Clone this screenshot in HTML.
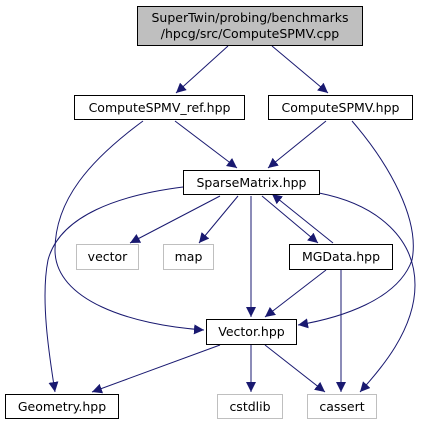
<!DOCTYPE html>
<html><head><meta charset="utf-8"><style>
html,body{margin:0;padding:0;background:#fff;width:421px;height:425px;overflow:hidden}
text{font-family:"DejaVu Sans","Liberation Sans",sans-serif;font-size:12.5px;fill:#000}
</style></head><body>
<svg width="421" height="425" viewBox="0 0 421 425" xmlns="http://www.w3.org/2000/svg">
<defs><marker id="a" viewBox="0 0 10 10" refX="10" refY="5" markerWidth="10" markerHeight="10" markerUnits="userSpaceOnUse" orient="auto"><path d="M0,0 L10,5 L0,10 z" fill="#191970"/></marker></defs>
<g fill="none" stroke="#191970" stroke-width="1" marker-end="url(#a)">
<path d="M228,46 L176,93"/>
<path d="M272,46 L328,93"/>
<path d="M175,121 L237,168"/>
<path d="M326,121 L268,168"/>
<path d="M143,121 C90,160 55,200 55,250 C55,300 130,325 204,330"/>
<path d="M352,121 C390,165 420,220 412,260 C398,300 340,318 298,325"/>
<path d="M183,187 C120,195 60,215 48,260 C40,300 50,360 55,392"/>
<path d="M220,196 L130,243"/>
<path d="M238,196 L199,243"/>
<path d="M251,196 L251,317"/>
<path d="M262,196 L318,243"/>
<path d="M333,243 L272,194"/>
<path d="M319,193 C380,205 415,240 415,285 C415,330 380,370 360,392"/>
<path d="M326,270 L265,317"/>
<path d="M341,270 L341,392"/>
<path d="M220,345 L92,392"/>
<path d="M251,345 L251,392"/>
<path d="M265,345 L325,392"/>
</g>
<rect x="137.5" y="6.5" width="225" height="39" fill="#bfbfbf" stroke="#000"/>
<text x="250" y="22" text-anchor="middle">SuperTwin/probing/benchmarks</text>
<text x="250" y="38" text-anchor="middle">/hpcg/src/ComputeSPMV.cpp</text>
<g fill="#fff" stroke="#000">
<rect x="74.5" y="95.5" width="170" height="24"/>
<rect x="268.5" y="95.5" width="144" height="24"/>
<rect x="183.5" y="170.5" width="136" height="24"/>
<rect x="289.5" y="244.5" width="103" height="25"/>
<rect x="206.5" y="319.5" width="90" height="25"/>
<rect x="5.5" y="394.5" width="113" height="24"/>
</g>
<g fill="#fff" stroke="#bfbfbf">
<rect x="76.5" y="244.5" width="62" height="25"/>
<rect x="163.5" y="244.5" width="50" height="25"/>
<rect x="217.5" y="394.5" width="65" height="24"/>
<rect x="307.5" y="394.5" width="69" height="24"/>
</g>
<g text-anchor="middle">
<text x="159.5" y="112">ComputeSPMV_ref.hpp</text>
<text x="340.5" y="112">ComputeSPMV.hpp</text>
<text x="251.5" y="187">SparseMatrix.hpp</text>
<text x="107.5" y="261">vector</text>
<text x="188.5" y="261">map</text>
<text x="341" y="261">MGData.hpp</text>
<text x="251.5" y="336">Vector.hpp</text>
<text x="62" y="411">Geometry.hpp</text>
<text x="250" y="411">cstdlib</text>
<text x="342" y="411">cassert</text>
</g>
</svg>
</body></html>
